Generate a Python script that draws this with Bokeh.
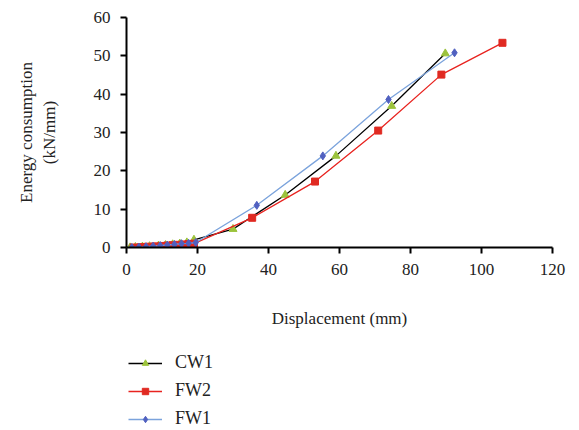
from bokeh.plotting import figure
from bokeh.layouts import column
from bokeh.models import Legend, LegendItem, FixedTicker, Range1d
from bokeh.embed import file_html
from bokeh.resources import INLINE

# Data (displacement mm, energy consumption)
cw1_x = [1, 2.5, 4.5, 6.5, 9, 11, 13, 15, 17, 19, 30, 44.7, 59, 74.7, 89.8]
cw1_y = [0, 0.1, 0.2, 0.3, 0.45, 0.6, 0.8, 1.0, 1.3, 2.0, 4.8, 13.7, 23.9, 36.9, 50.6]

fw2_x = [2, 4, 6, 8, 10, 11.5, 13, 14.5, 16, 17.5, 19, 35.4, 53.1, 70.9, 88.7, 105.9]
fw2_y = [0, 0.1, 0.2, 0.3, 0.4, 0.5, 0.6, 0.7, 0.8, 0.9, 1.0, 7.75, 17.2, 30.5, 45.1, 53.4]

fw1_x = [1.5, 3.5, 5.5, 7.5, 9.5, 11.5, 13.5, 15.5, 17.5, 19.5, 36.7, 55.3, 73.8, 92.4]
fw1_y = [0, 0.1, 0.2, 0.35, 0.5, 0.65, 0.8, 1.0, 1.1, 1.3, 11.0, 23.9, 38.6, 50.8]

series_names = ["CW1", "FW2", "FW1"]
x_ticks = [0, 20, 40, 60, 80, 100, 120]
y_ticks = [0, 10, 20, 30, 40, 50, 60]

FONT = "Liberation Serif"
STYLES = [
    dict(line="black", marker="triangle", size=8, mcolor="#9cc33c"),
    dict(line="#e8231f", marker="square", size=7, mcolor="#e02a22"),
    dict(line="#7ba3dc", marker="diamond", size=8, mcolor="#5060c0"),
]
DATA = [(cw1_x, cw1_y), (fw2_x, fw2_y), (fw1_x, fw1_y)]

p = figure(width=579, height=330, output_backend="svg", toolbar_location=None,
           x_range=Range1d(0, 120), y_range=Range1d(0, 60),
           min_border_left=126, min_border_right=27, min_border_top=17, min_border_bottom=83)
p.outline_line_color = None
p.grid.visible = False
p.background_fill_color = "white"
p.border_fill_color = "white"

for ax in (p.xaxis[0], p.yaxis[0]):
    ax.axis_line_color = "black"
    ax.axis_line_width = 2
    ax.major_tick_line_color = "black"
    ax.major_tick_line_width = 2
    ax.major_tick_out = 6
    ax.major_tick_in = 0
    ax.minor_tick_line_color = None
    ax.major_label_text_font = FONT
    ax.major_label_text_font_size = "17px"
    ax.major_label_text_color = "#222222"
    ax.axis_label_text_font = FONT
    ax.axis_label_text_font_size = "17px"
    ax.axis_label_text_font_style = "normal"
    ax.axis_label_text_color = "#222222"

p.xaxis.ticker = FixedTicker(ticks=x_ticks)
p.yaxis.ticker = FixedTicker(ticks=y_ticks)
p.xaxis.axis_label = "Displacement (mm)"
p.xaxis.axis_label_standoff = 31
p.xaxis.major_label_standoff = 10
p.yaxis.axis_label = "Energy consumption\n(kN/mm)"
p.yaxis.axis_label_standoff = 32
p.yaxis.major_label_standoff = 10

for (xs, ys), st in zip(DATA, STYLES):
    p.line(xs, ys, line_color=st["line"], line_width=1.3)
    p.scatter(xs, ys, marker=st["marker"], size=st["size"],
              fill_color=st["mcolor"], line_color=st["mcolor"])

# Legend panel below the chart (same series, drawn out of view; only legend glyphs show)
lg = figure(width=579, height=100, output_backend="svg", toolbar_location=None,
            x_range=Range1d(0, 120), y_range=Range1d(1000, 1060),
            x_axis_type=None, y_axis_type=None,
            min_border_left=0, min_border_right=0, min_border_top=0, min_border_bottom=0)
lg.outline_line_color = None
lg.grid.visible = False
items = []
for name, (xs, ys), st in zip(series_names, DATA, STYLES):
    r1 = lg.line(xs, ys, line_color=st["line"], line_width=1.5)
    r2 = lg.scatter(xs, ys, marker=st["marker"], size=st["size"],
                    fill_color=st["mcolor"], line_color=st["mcolor"])
    items.append(LegendItem(label=name, renderers=[r1, r2]))

legend = Legend(items=items, location=(2, 1))
legend.border_line_color = None
legend.background_fill_alpha = 0
legend.padding = 0
legend.margin = 0
legend.spacing = 7
legend.glyph_width = 34
legend.glyph_height = 16
legend.label_height = 16
legend.label_standoff = 13
legend.label_text_font = FONT
legend.label_text_font_size = "18px"
legend.label_text_color = "#222222"
lg.add_layout(legend, "center")

layout = column(p, lg, spacing=0)
open("out.html", "w").write(file_html(layout, INLINE))
